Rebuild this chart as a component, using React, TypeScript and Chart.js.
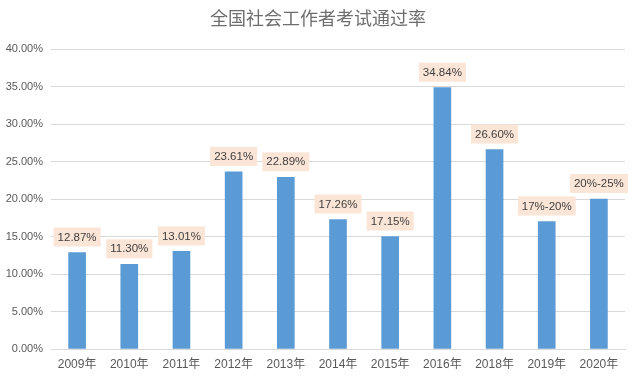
import React, { useEffect, useRef } from "react";
import { Chart, registerables } from "chart.js";

Chart.register(...registerables);

const title = "全国社会工作者考试通过率";
const categories = ["2009年", "2010年", "2011年", "2012年", "2013年", "2014年", "2015年", "2016年", "2018年", "2019年", "2020年"];
const passRates = [12.87, 11.3, 13.01, 23.61, 22.89, 17.26, 15.0, 34.84, 26.6, 17.0, 20.0];
const rateLabels = ["12.87%", "11.30%", "13.01%", "23.61%", "22.89%", "17.26%", "17.15%", "34.84%", "26.60%", "17%-20%", "20%-25%"];

const FONT = "'Liberation Sans', 'Noto Sans CJK SC', sans-serif";

const labelPlugin = {
  id: "boxLabels",
  afterDatasetsDraw(chart: any) {
    const ctx = chart.ctx;
    const meta = chart.getDatasetMeta(0);
    ctx.save();
    ctx.font = `11.5px ${FONT}`;
    ctx.textAlign = "center";
    ctx.textBaseline = "middle";
    meta.data.forEach((bar: any, i: number) => {
      const text = rateLabels[i];
      const w = ctx.measureText(text).width + 8;
      const h = 19;
      const bottom = bar.y - 6;
      ctx.fillStyle = "#FBE5D6";
      ctx.fillRect(bar.x - w / 2, bottom - h, w, h);
      ctx.fillStyle = "#404040";
      ctx.fillText(text, bar.x, bottom - h / 2 + 0.5);
    });
    ctx.restore();
  },
};

const titlePlugin = {
  id: "cnTitle",
  afterDraw(chart: any) {
    const ctx = chart.ctx;
    ctx.save();
    ctx.font = `18px 'Noto Sans CJK SC', sans-serif`;
    ctx.fillStyle = "#6E6E6E";
    ctx.textAlign = "center";
    ctx.textBaseline = "middle";
    ctx.fillText(title, 318, 18);
    ctx.restore();
  },
};

export default function App() {
  const ref = useRef<HTMLCanvasElement>(null);
  useEffect(() => {
    if (!ref.current) return;
    const chart = new Chart(ref.current, {
      type: "bar",
      data: {
        labels: categories,
        datasets: [
          {
            data: passRates,
            backgroundColor: "#5B9BD5",
            barThickness: 17,
          },
        ],
      },
      options: {
        animation: false,
        responsive: false,
        maintainAspectRatio: false,
        layout: { padding: { top: 49, right: 10, left: 0, bottom: 0 } },
        plugins: { legend: { display: false }, tooltip: { enabled: false } },
        scales: {
          x: {
            grid: { display: false, drawTicks: false },
            border: { display: true, color: "#D9D9D9" },
            ticks: { color: "#595959", font: { size: 12, family: FONT }, padding: 8, maxRotation: 0, autoSkip: false },
            afterFit(scale: any) {
              scale.height = 29;
            },
          },
          y: {
            min: 0,
            max: 40,
            grid: { color: "#D9D9D9", drawTicks: false },
            border: { display: false },
            ticks: {
              stepSize: 5,
              color: "#595959",
              font: { size: 11, family: FONT },
              padding: 8,
              callback: (v: any) => Number(v).toFixed(2) + "%",
            },
            afterFit(scale: any) {
              scale.width = 51;
            },
          },
        },
      },
      plugins: [labelPlugin, titlePlugin],
    });
    return () => chart.destroy();
  }, []);
  return (
    <div style={{ position: "absolute", left: 0, top: 0, width: 635, height: 378, background: "#fff" }}>
      <canvas ref={ref} width={635} height={378} style={{ width: 635, height: 378 }} />
    </div>
  );
}
